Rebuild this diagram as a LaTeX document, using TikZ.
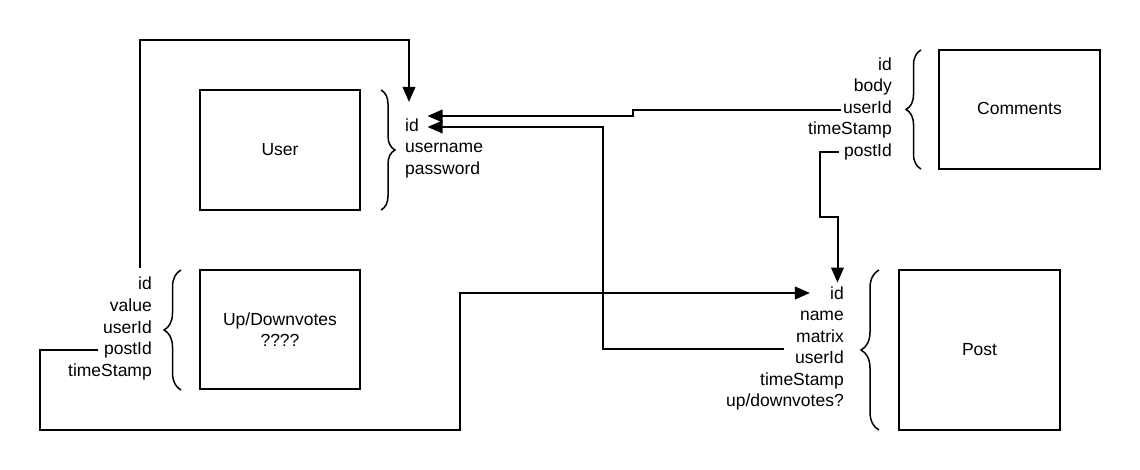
\documentclass[tikz,border=0pt]{standalone}
\usepackage{fontspec}
\setmainfont{Liberation Sans}
\usetikzlibrary{arrows.meta,decorations.pathreplacing,calc}
\begin{document}
\begin{tikzpicture}[x=1pt,y=-1pt,
  box/.style={draw,line width=2pt,inner sep=0pt,font=\fontsize{17.5}{21.5}\selectfont,align=center},
  lbl/.style={inner sep=0pt,font=\fontsize{17.5}{21}\selectfont},
  conn/.style={line width=2pt,-{Triangle[length=15pt,width=12.5pt]}},
  brc/.style={line width=1.5pt,decorate,decoration={brace,amplitude=#1}}]
\useasboundingbox (0,0) rectangle (1140,470);
% boxes
\node[box,minimum width=160pt,minimum height=120pt] (user) at (280,150) {\raisebox{2pt}{User}};
\node[box,minimum width=161pt,minimum height=119pt] (comments) at (1019.5,109.5) {\raisebox{2pt}{Comments}};
\node[box,minimum width=161pt,minimum height=160pt] (post) at (979.5,350) {\raisebox{2pt}{Post}};
\node[box,minimum width=160pt,minimum height=119pt] (votes) at (280,329.5) {Up/Downvotes\\????};
% braces
\draw[brc=14pt] (381,90) -- (381,210);
\draw[brc=15pt] (921,169) -- (921,50);
\draw[brc=18pt] (879,430) -- (879,270);
\draw[brc=17pt] (181,390) -- (181,270);
% user fields
\node[lbl,anchor=base west] (u-id) at (405,131.5) {id};
\node[lbl,anchor=base west] (u-username) at (405,153) {username};
\node[lbl,anchor=base west] (u-password) at (405,174.5) {password};
% comments fields
\node[lbl,anchor=base east] (c-id) at (892,70.5) {id};
\node[lbl,anchor=base east] (c-body) at (892,92) {body};
\node[lbl,anchor=base east] (c-userId) at (892,113.5) {userId};
\node[lbl,anchor=base east] (c-timeStamp) at (892,135) {timeStamp};
\node[lbl,anchor=base east] (c-postId) at (892,156.5) {postId};
% post fields
\node[lbl,anchor=base east] (p-id) at (844,299) {id};
\node[lbl,anchor=base east] (p-name) at (844,320.5) {name};
\node[lbl,anchor=base east] (p-matrix) at (844,342) {matrix};
\node[lbl,anchor=base east] (p-userId) at (844,363.5) {userId};
\node[lbl,anchor=base east] (p-timeStamp) at (844,385) {timeStamp};
\node[lbl,anchor=base east] (p-votes) at (844,406.5) {up/downvotes?};
% votes fields
\node[lbl,anchor=base east] (v-id) at (152,290) {id};
\node[lbl,anchor=base east] (v-value) at (152,311.5) {value};
\node[lbl,anchor=base east] (v-userId) at (152,333) {userId};
\node[lbl,anchor=base east] (v-postId) at (152,354.5) {postId};
\node[lbl,anchor=base east] (v-timeStamp) at (152,376) {timeStamp};
% connector end points
\coordinate (s1) at ($(v-id.base west)+(1.6,-22)$);
\coordinate (t1) at ($(u-id.base west)+(4,-29.5)$);
\coordinate (tA) at ($(u-id.base east)+(8.5,-15.5)$);
\coordinate (tB) at ($(u-id.base east)+(8.5,-4.5)$);
\coordinate (s2) at ($(c-userId.base west)+(-2,-3.5)$);
\coordinate (s3) at ($(p-userId.base west)+(-11,-14.5)$);
\coordinate (s4) at ($(c-postId.base west)+(-5,-4.5)$);
\coordinate (tC) at ($(p-id.north)+(0.5,-3.5)$);
\coordinate (s5) at ($(v-postId.base west)+(-6,-4.5)$);
\coordinate (tD) at ($(p-id.base west)+(-20,-6)$);
% bends
\coordinate (b1) at (300,40);
\coordinate (b2) at (633,112);
\coordinate (b3) at (603,240);
\coordinate (b4a) at (820,180);
\coordinate (b4b) at (830,217);
\coordinate (b5a) at (40,400);
\coordinate (b5b) at (250,430);
\coordinate (b5c) at (460,350);
% connectors
\draw[conn] (s1) |- (b1) -| (t1);
\draw[conn] (s2) -| (b2) |- (tA);
\draw[conn] (s3) -| (b3) |- (tB);
\draw[conn] (s4) -| (b4a) |- (b4b) -| (tC);
\draw[conn] (s5) -| (b5a) |- (b5b) -| (b5c) |- (tD);
\end{tikzpicture}
\end{document}
